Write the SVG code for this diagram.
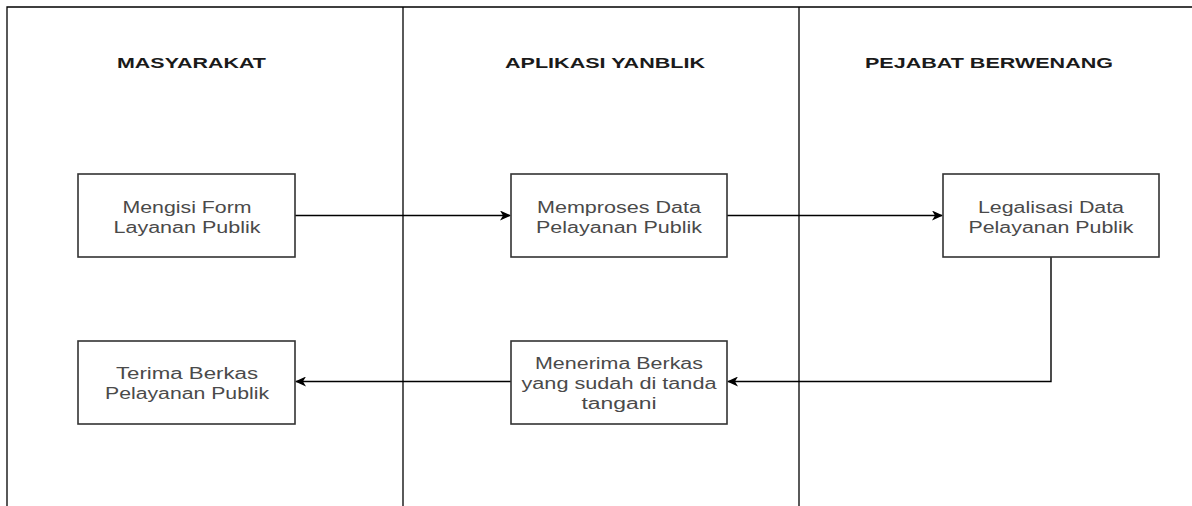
<svg xmlns="http://www.w3.org/2000/svg" width="1192" height="506" viewBox="0 0 1192 506">
<defs>
<style>
.lane{stroke:#000;stroke-width:1.3;fill:none}
.box{fill:#fff;stroke:#333;stroke-width:1.6}
.hd{font-family:"Liberation Sans",Arial,sans-serif;font-size:15px;font-weight:bold;fill:#1a1a1a;text-anchor:middle}
.tx{font-family:"Liberation Sans",Arial,sans-serif;font-size:16px;fill:#4a4a4a;text-anchor:middle}
.cn{stroke:#000;stroke-width:1.4;fill:none}
</style>
<marker id="arr" markerWidth="12" markerHeight="10" refX="10" refY="5" orient="auto" markerUnits="userSpaceOnUse">
<path d="M0,0 L11,5 L0,10 L3,5 Z" fill="#000"/>
</marker>
</defs>
<rect width="1192" height="506" fill="#fff"/>
<g id="lanes">
<path class="lane" d="M7,506 L7,7 L1192,7"/>
<path class="lane" d="M403,7 L403,506"/>
<path class="lane" d="M799,7 L799,506"/>
<text class="hd" x="191.5" y="68" textLength="149" lengthAdjust="spacingAndGlyphs">MASYARAKAT</text>
<text class="hd" x="605" y="68" textLength="200" lengthAdjust="spacingAndGlyphs">APLIKASI YANBLIK</text>
<text class="hd" x="989" y="68" textLength="248" lengthAdjust="spacingAndGlyphs">PEJABAT BERWENANG</text>
</g>
<g id="connectors">
<path class="cn" d="M295,215.5 L510,215.5" marker-end="url(#arr)"/>
<path class="cn" d="M727,215.5 L942,215.5" marker-end="url(#arr)"/>
<path class="cn" d="M1051,257 L1051,381.5 L728,381.5" marker-end="url(#arr)"/>
<path class="cn" d="M511,381.5 L296,381.5" marker-end="url(#arr)"/>
</g>
<g id="n1">
<rect class="box" x="78" y="174" width="217" height="83"/>
<text class="tx" x="187" y="213" textLength="129" lengthAdjust="spacingAndGlyphs">Mengisi Form</text>
<text class="tx" x="187" y="233" textLength="147" lengthAdjust="spacingAndGlyphs">Layanan Publik</text>
</g>
<g id="n2">
<rect class="box" x="511" y="174" width="216" height="83"/>
<text class="tx" x="619" y="213" textLength="164" lengthAdjust="spacingAndGlyphs">Memproses Data</text>
<text class="tx" x="619" y="233" textLength="166" lengthAdjust="spacingAndGlyphs">Pelayanan Publik</text>
</g>
<g id="n3">
<rect class="box" x="943" y="174" width="216" height="83"/>
<text class="tx" x="1051" y="213" textLength="146" lengthAdjust="spacingAndGlyphs">Legalisasi Data</text>
<text class="tx" x="1051" y="233" textLength="165" lengthAdjust="spacingAndGlyphs">Pelayanan Publik</text>
</g>
<g id="n4">
<rect class="box" x="511" y="341" width="216" height="83"/>
<text class="tx" x="619" y="369" textLength="168" lengthAdjust="spacingAndGlyphs">Menerima Berkas</text>
<text class="tx" x="619" y="389" textLength="195" lengthAdjust="spacingAndGlyphs">yang sudah di tanda</text>
<text class="tx" x="619" y="408.5" textLength="75" lengthAdjust="spacingAndGlyphs">tangani</text>
</g>
<g id="n5">
<rect class="box" x="78" y="341" width="217" height="83"/>
<text class="tx" x="187" y="379" textLength="142" lengthAdjust="spacingAndGlyphs">Terima Berkas</text>
<text class="tx" x="187" y="399" textLength="164" lengthAdjust="spacingAndGlyphs">Pelayanan Publik</text>
</g>
</svg>
